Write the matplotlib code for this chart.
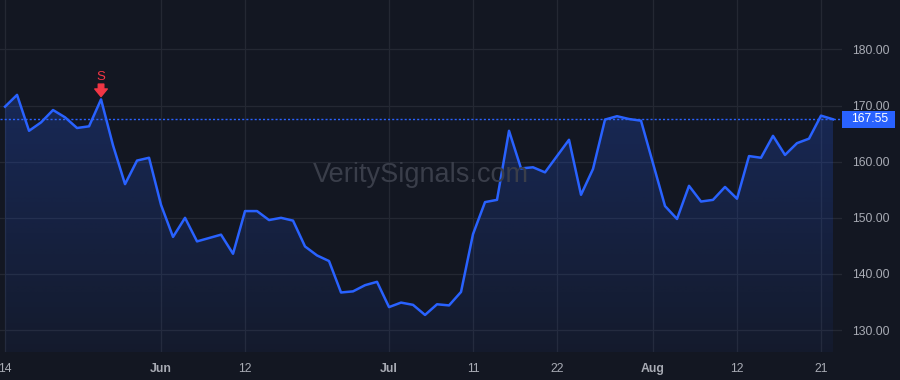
import numpy as np
import matplotlib
matplotlib.use('Agg')
import matplotlib.pyplot as plt
from matplotlib.patches import Polygon, Rectangle

plt.rcParams['font.family'] = ['Liberation Sans', 'DejaVu Sans']

# daily closes, one per trading day from May 14 to Aug 22
closes = [169.8, 171.9, 165.5, 167.0, 169.2, 167.9, 166.0, 166.3, 171.1, 162.9,
          156.0, 160.2, 160.7, 152.3, 146.6, 150.0, 145.8, 146.4, 147.0, 143.6,
          151.2, 151.2, 149.6, 150.0, 149.5, 144.9, 143.3, 142.3, 136.7, 136.9,
          138.0, 138.6, 134.1, 134.9, 134.5, 132.7, 134.6, 134.4, 136.8, 147.1,
          152.8, 153.2, 165.5, 158.8, 159.0, 158.1, 161.0, 163.9, 154.1, 158.7,
          167.5, 168.1, 167.6, 167.3, 159.7, 152.1, 149.8, 155.7, 152.9, 153.2,
          155.5, 153.4, 161.0, 160.7, 164.6, 161.2, 163.3, 164.1, 168.2, 167.55]
tick_pos = [0, 13, 20, 32, 39, 46, 54, 61, 68]
tick_labels = ['14', 'Jun', '12', 'Jul', '11', '22', 'Aug', '12', '21']
month_labels = ['Jun', 'Jul', 'Aug']
price_ticks = [130, 140, 150, 160, 170, 180]
signal_idx = 8
signal_text = 'S'
last_price = closes[-1]

bg = '#131722'
grid = '#242833'
blue = '#2962ff'
red = '#f23645'
txt = '#a8abb4'

fig = plt.figure(figsize=(9, 3.8), dpi=100, facecolor=bg)
ax = fig.add_axes([0, 1 - 352 / 380, 842 / 900, 352 / 380])
ax.set_facecolor(bg)

x = np.arange(len(closes))
ax.set_xlim(-0.42, 69.75)
ax.set_ylim(126.1, 188.8)

# grid
for p in tick_pos:
    ax.axvline(p, color=grid, lw=0.9, zorder=0)
for v in price_ticks:
    ax.axhline(v, color=grid, lw=0.9, zorder=0)

# gradient area under the line
top = max(closes)
grad = np.zeros((100, 2, 4))
grad[..., 0] = 41 / 255
grad[..., 1] = 98 / 255
grad[..., 2] = 1.0
grad[..., 3] = np.linspace(0.24, 0.05, 100)[:, None]
im = ax.imshow(grad, extent=(x[0], x[-1], 126.1, top), origin='upper',
               aspect='auto', zorder=1)
verts = [(x[0], 126.1)] + list(zip(x, closes)) + [(x[-1], 126.1)]
poly = Polygon(verts, closed=True, facecolor='none', edgecolor='none')
ax.add_patch(poly)
im.set_clip_path(poly)

ax.plot(x, closes, color=blue, lw=1.8, zorder=3)

# last price line
ax.axhline(last_price, color=blue, lw=1.0, ls=(0, (1.5, 1.5)), zorder=2)

# sell signal
ax.annotate('', xy=(signal_idx, closes[signal_idx]), xytext=(0, 11),
            textcoords='offset points', xycoords='data',
            arrowprops=dict(arrowstyle='simple,head_width=0.9,head_length=0.55,tail_width=0.4',
                            color=red, shrinkA=0, shrinkB=2), zorder=4)
ax.annotate(signal_text, xy=(signal_idx, closes[signal_idx]), xytext=(0, 12),
            textcoords='offset points', ha='center', va='bottom',
            color=red, fontsize=9.5)

# axes styling
for s in ax.spines.values():
    s.set_visible(False)
ax.set_xticks(tick_pos)
ax.set_xticklabels(tick_labels)
for lab in ax.get_xticklabels():
    lab.set_color(txt)
    lab.set_fontsize(8.8)
    if lab.get_text() in month_labels:
        lab.set_fontweight('bold')
ax.tick_params(axis='x', length=0, pad=8)
ax.yaxis.tick_right()
ax.set_yticks(price_ticks)
ax.set_yticklabels([f'{v:.2f}' for v in price_ticks])
ax.tick_params(axis='y', length=0, pad=7, labelcolor=txt, labelsize=8.8)

# last price label
fig.add_artist(Rectangle((842 / 900, 1 - 128 / 380), 53 / 900, 17 / 380,
                         transform=fig.transFigure, facecolor=blue, edgecolor='none'))
fig.text(870 / 900, 1 - 119.5 / 380, f'{last_price:.2f}', color='white',
         fontsize=8.8, ha='center', va='center')

# watermark
fig.text(421 / 900, 1 - 182 / 380, 'VeritySignals.com', color='#3a3e4a',
         fontsize=19.5, ha='center', va='baseline', zorder=0)

fig.savefig('out.png', facecolor=bg)
